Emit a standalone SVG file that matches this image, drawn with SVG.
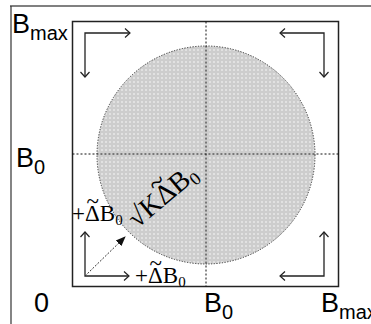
<svg xmlns="http://www.w3.org/2000/svg" width="371" height="324" viewBox="0 0 371 324">
<style>
.ax{font-family:"Liberation Sans",Arial,sans-serif;font-size:27px;fill:#000}
.sub{font-size:20px}
.m{font-family:"Liberation Serif","Times New Roman",serif;font-size:23px;fill:#000}
.msub{font-size:15px}
.arr{fill:none;stroke:#222;stroke-width:1.3;marker-start:url(#oa);marker-end:url(#oa)}
.dash{fill:none;stroke:#111;stroke-width:1;stroke-dasharray:2,2}
</style>
<defs>
<pattern id="dots" width="4" height="4" patternUnits="userSpaceOnUse">
<rect width="4" height="4" fill="#cdcdcd"/>
<circle cx="2" cy="2" r="1.1" fill="#e6e6e6"/>
</pattern>
<marker id="oa" viewBox="0 0 10 10" refX="9" refY="5" markerWidth="10" markerHeight="10" markerUnits="userSpaceOnUse" orient="auto-start-reverse">
<path d="M4,0.5 L9,5 L4,9.5" fill="none" stroke="#222" stroke-width="1.2"/>
</marker>
<marker id="fa" viewBox="0 0 10 10" refX="9" refY="5" markerWidth="10" markerHeight="10" markerUnits="userSpaceOnUse" orient="auto">
<path d="M0,1 L10,5 L0,9 Z" fill="#111"/>
</marker>
</defs>
<rect width="371" height="324" fill="#fff"/>
<g id="frame">
<line x1="10" y1="6" x2="371" y2="6" stroke="#808080" stroke-width="2"/>
<line x1="11" y1="6" x2="11" y2="324" stroke="#333" stroke-width="1.2"/>
</g>
<g id="region">
<circle cx="206" cy="155" r="109" fill="url(#dots)" stroke="#333" stroke-width="1" stroke-dasharray="1.2,1.5"/>
</g>
<g id="box">
<rect x="72.5" y="21.5" width="266" height="265" fill="none" stroke="#222" stroke-width="1.5"/>
<line class="dash" x1="206" y1="21.5" x2="206" y2="286.5"/>
<line class="dash" x1="72.5" y1="154" x2="338.5" y2="154"/>
</g>
<g id="connectors">
<polyline class="arr" points="85,77 85,33 130,33"/>
<polyline class="arr" points="280,33 324,33 324,77"/>
<polyline class="arr" points="280,276 324,276 324,232"/>
<polyline class="arr" points="85,232 85,276 129,276"/>
<line x1="85" y1="276" x2="125" y2="237" stroke="#333" stroke-width="1" stroke-dasharray="2,1.5" marker-end="url(#fa)"/>
</g>
<g id="labels">
<text class="ax" x="12" y="33">B<tspan class="sub" dy="7">max</tspan></text>
<text class="ax" x="16" y="167">B<tspan class="sub" dy="7">0</tspan></text>
<text class="ax" x="34" y="312">0</text>
<text class="ax" x="204" y="312">B<tspan class="sub" dy="7">0</tspan></text>
<text class="ax" x="321" y="312">B<tspan class="sub" dy="7">max</tspan></text>
</g>
<g id="label-left">
<text class="m" x="72" y="221">+Δ<tspan dx="-13.3" dy="-12">~</tspan><tspan dx="0.9" dy="12">B</tspan><tspan class="msub" dy="4">0</tspan></text>
</g>
<g id="label-bottom">
<text class="m" x="135" y="283">+Δ<tspan dx="-13.3" dy="-12">~</tspan><tspan dx="0.9" dy="12">B</tspan><tspan class="msub" dy="4">0</tspan></text>
</g>
<g id="label-diag" transform="translate(137,229) rotate(-40)">
<text class="m" style="font-size:28px" x="0" y="0">√KΔ<tspan dx="-16.1" dy="-14">~</tspan><tspan dx="1" dy="14">B</tspan><tspan style="font-size:18px" dy="5">0</tspan></text>
</g>
</svg>
